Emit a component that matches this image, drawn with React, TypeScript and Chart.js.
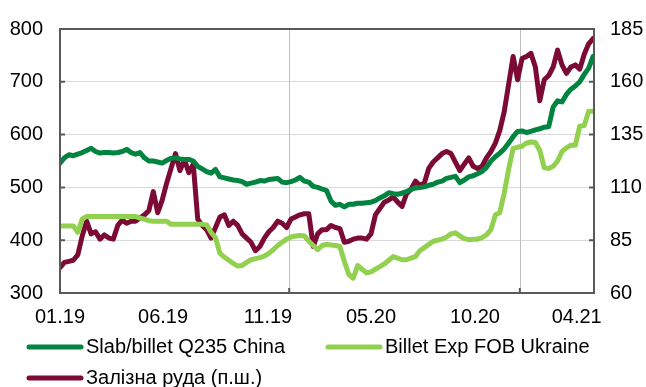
import React, { useEffect, useRef } from "react";
import { Chart, registerables } from "chart.js";

Chart.register(...registerables);

// Weekly observations, 01.2019 .. 04.2021
const slabChina = [
  546, 556, 562, 560, 563, 566, 570, 574, 568, 565, 566, 566, 565, 566, 568, 572, 566, 563, 566, 556,
  550, 550, 548, 546, 551, 555, 556, 554, 553, 553, 550, 540, 535, 530, 527, 534, 520, 518, 516, 514,
  513, 511, 506, 508, 510, 513, 512, 515, 516, 517, 510, 509, 511, 514, 519, 512, 510, 502, 500, 497,
  494, 474, 466, 468, 463, 468, 468, 470, 470, 471, 472, 475, 480, 484, 490, 488, 487, 489, 492, 496,
  499, 500, 501, 504, 506, 510, 512, 517, 519, 521, 509, 514, 520, 522, 526, 530, 538, 550, 558, 565,
  573, 584, 596, 606, 607, 604, 606, 609, 611, 614, 615, 652, 664, 662, 676, 686, 692, 700, 714, 726,
  748,
];

const billetUkraine = [
  427, 427, 427, 427, 415, 440, 445, 445, 445, 445, 445, 445, 445, 445, 445, 445, 445, 445, 442, 440,
  437, 436, 436, 436, 436, 430, 430, 430, 430, 430, 430, 430, 430, 429, 415, 405, 375, 368, 362, 356,
  351, 352, 358, 363, 365, 367, 370, 375, 382, 390, 396, 402, 406, 408, 409, 408, 398, 390, 382, 390,
  392, 391, 390, 388, 360, 335, 328, 352, 345, 338, 340, 345, 350, 355, 362, 369, 366, 363, 363, 366,
  369, 380, 386, 392, 398, 400, 402, 406, 412, 414, 408, 403, 401, 402, 402, 405, 410, 420, 448, 452,
  490, 535, 574, 576, 578, 584, 586, 585, 570, 537, 536, 540, 550, 568, 575, 580, 580, 616, 617, 644,
  644,
];

const ironOre = [
  72, 74.5, 75, 75.5, 78, 87, 94, 88, 89, 85.5, 87.5, 86, 85.5, 92, 94.5, 93, 94, 94, 95.5, 97,
  99, 108, 98, 104, 112, 119, 126, 118, 123, 117, 121, 95, 92, 90, 86, 91, 96, 97, 92, 94,
  92, 88, 86, 84, 80, 82, 86, 89, 91, 94, 93, 91, 95, 96, 97, 97.5, 97.5, 82, 88, 90,
  90, 92, 91, 90.5, 84, 84.5, 85.5, 86, 86, 85.5, 88, 97, 100, 103, 104, 105.5, 103, 101, 107, 109,
  113, 111, 112, 119, 122, 124, 126, 127, 126, 122, 118, 121, 124, 120, 119, 120, 124, 127, 131, 137,
  146, 159, 172, 161, 171, 172, 173.5, 167, 151, 161, 163, 167, 175, 168, 164, 167, 168, 166, 173, 178,
  180.5,
];

const tickLabels = ["01.19", "06.19", "11.19", "05.20", "10.20", "04.21"];
const tickWeeks = [0, 23.2, 46.8, 70.0, 93.4, 116.3];
const yearStartWeeks = [51.6, 103.5];

const seriesNames = ["Slab/billet Q235 China", "Billet Exp FOB Ukraine", "Залізна руда (п.ш.)"];
const seriesColors = ["#00843F", "#92D050", "#7B0A35"];

const FONT = '"Liberation Sans", Arial, sans-serif';
const FONT_SIZE = 20;
const AXIS_COLOR = "#595959";

export default function App() {
  const ref = useRef<HTMLCanvasElement | null>(null);

  useEffect(() => {
    document.body.style.margin = "0";
    const canvas = ref.current;
    if (!canvas) return;

    const toXY = (arr: number[]) => arr.map((v, i) => ({ x: i, y: v }));

    const framePlugin = {
      id: "frame",
      beforeDatasetsDraw(chart: any) {
        const { ctx, chartArea } = chart;
        const xs = chart.scales.x;
        ctx.save();
        ctx.strokeStyle = "#BFBFBF";
        ctx.lineWidth = 1;
        yearStartWeeks.forEach((w) => {
          const px = Math.round(xs.getPixelForValue(w)) + 0.5;
          ctx.beginPath();
          ctx.moveTo(px, chartArea.top);
          ctx.lineTo(px, chartArea.bottom);
          ctx.stroke();
        });
        ctx.restore();
      },
      afterDatasetsDraw(chart: any) {
        const { ctx, chartArea } = chart;
        const xs = chart.scales.x;
        const yl = chart.scales.y;
        const yr = chart.scales.y1;
        ctx.save();
        ctx.strokeStyle = AXIS_COLOR;
        ctx.lineWidth = 2;
        ctx.strokeRect(chartArea.left, chartArea.top, chartArea.right - chartArea.left, chartArea.bottom - chartArea.top);
        ctx.beginPath();
        yl.ticks.forEach((t: any) => {
          const py = yl.getPixelForValue(t.value);
          ctx.moveTo(chartArea.left, py);
          ctx.lineTo(chartArea.left + 5, py);
        });
        yr.ticks.forEach((t: any) => {
          const py = yr.getPixelForValue(t.value);
          ctx.moveTo(chartArea.right, py);
          ctx.lineTo(chartArea.right - 5, py);
        });
        yearStartWeeks.forEach((w) => {
          const px = xs.getPixelForValue(w);
          ctx.moveTo(px, chartArea.bottom);
          ctx.lineTo(px, chartArea.bottom - 5);
        });
        ctx.stroke();
        ctx.restore();
      },
      afterDraw(chart: any) {
        const { ctx } = chart;
        const items = [
          { x: 29, y: 347 },
          { x: 328, y: 347 },
          { x: 29, y: 378 },
        ];
        ctx.save();
        ctx.font = `${FONT_SIZE}px ${FONT}`;
        ctx.textBaseline = "middle";
        ctx.textAlign = "left";
        items.forEach((it, i) => {
          ctx.strokeStyle = seriesColors[i];
          ctx.lineWidth = 5;
          ctx.lineCap = "round";
          ctx.beginPath();
          ctx.moveTo(it.x, it.y);
          ctx.lineTo(it.x + 52, it.y);
          ctx.stroke();
          ctx.fillStyle = "#000";
          ctx.fillText(seriesNames[i], it.x + 57, it.y);
        });
        ctx.restore();
      },
    };

    const chart = new Chart(canvas, {
      type: "line",
      data: {
        datasets: [
          {
            label: seriesNames[1],
            data: toXY(billetUkraine),
            borderColor: seriesColors[1],
            backgroundColor: seriesColors[1],
            borderWidth: 5,
            pointRadius: 0,
            yAxisID: "y",
          },
          {
            label: seriesNames[0],
            data: toXY(slabChina),
            borderColor: seriesColors[0],
            backgroundColor: seriesColors[0],
            borderWidth: 5,
            pointRadius: 0,
            yAxisID: "y",
          },
          {
            label: seriesNames[2],
            data: toXY(ironOre),
            borderColor: seriesColors[2],
            backgroundColor: seriesColors[2],
            borderWidth: 5,
            pointRadius: 0,
            yAxisID: "y1",
          },
        ],
      },
      options: {
        animation: false,
        responsive: false,
        maintainAspectRatio: false,
        devicePixelRatio: 1,
        layout: { padding: { left: 0, right: 0, top: 17, bottom: 54 } },
        elements: { line: { tension: 0, borderJoinStyle: "round", borderCapStyle: "round" } },
        plugins: { legend: { display: false }, tooltip: { enabled: false } },
        scales: {
          x: {
            type: "linear",
            min: 0,
            max: 120.2,
            grid: { display: false, drawTicks: false },
            border: { display: false },
            afterBuildTicks: (scale: any) => {
              scale.ticks = tickWeeks.map((v) => ({ value: v }));
            },
            afterFit: (scale: any) => {
              scale.height = 40;
            },
            ticks: {
              autoSkip: false,
              maxRotation: 0,
              minRotation: 0,
              padding: 12,
              color: "#000",
              font: { family: FONT, size: FONT_SIZE },
              callback: (_v: any, idx: number) => tickLabels[idx],
            },
          },
          y: {
            position: "left",
            min: 300,
            max: 800,
            grid: { color: "#D9D9D9", lineWidth: 1, drawTicks: false },
            border: { display: false },
            afterFit: (scale: any) => {
              scale.width = 60;
            },
            ticks: {
              stepSize: 100,
              padding: 17,
              color: "#000",
              font: { family: FONT, size: FONT_SIZE },
            },
          },
          y1: {
            position: "right",
            min: 60,
            max: 185,
            grid: { display: false, drawTicks: false },
            border: { display: false },
            afterFit: (scale: any) => {
              scale.width = 52;
            },
            ticks: {
              stepSize: 25,
              padding: 16,
              color: "#000",
              font: { family: FONT, size: FONT_SIZE },
            },
          },
        },
      },
      plugins: [framePlugin],
    } as any);

    return () => chart.destroy();
  }, []);

  return (
    <div style={{ width: 646, height: 387, position: "relative" }}>
      <canvas ref={ref} width={646} height={387} style={{ display: "block", width: 646, height: 387 }} />
    </div>
  );
}
